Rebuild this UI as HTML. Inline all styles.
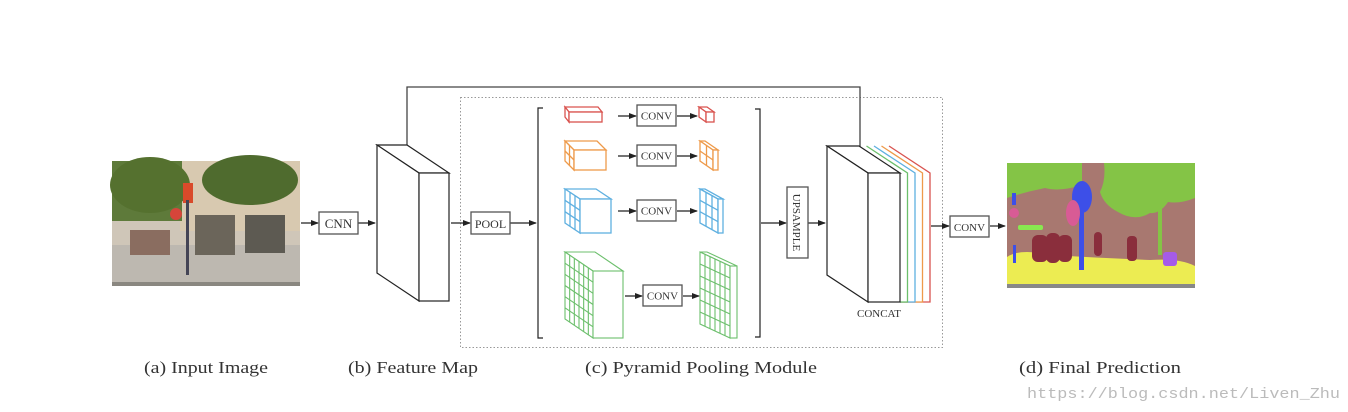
<!DOCTYPE html>
<html><head><meta charset="utf-8"><style>
html,body{margin:0;padding:0;background:#fff;width:1348px;height:412px;overflow:hidden}
svg{display:block}
text{font-family:"Liberation Serif",serif}
</style></head><body>
<svg id="s" width="1348" height="412" viewBox="0 0 1348 412" xmlns="http://www.w3.org/2000/svg">
<defs>
<marker id="a" markerWidth="8" markerHeight="6" refX="7" refY="3" orient="auto" markerUnits="userSpaceOnUse"><path d="M0,0 L8,3 L0,6 Z" fill="#222"/></marker>
</defs>
<!-- input image -->
<g>
<rect x="112" y="161" width="188" height="125" fill="#cfc6b8"/>
<rect x="180" y="161" width="120" height="70" fill="#d8c9b0"/>
<rect x="112" y="161" width="70" height="60" fill="#5e7a3a"/>
<ellipse cx="150" cy="185" rx="40" ry="28" fill="#55712f"/>
<ellipse cx="250" cy="180" rx="48" ry="25" fill="#4f6b2e"/>
<rect x="112" y="245" width="188" height="41" fill="#bdb8b0"/>
<rect x="195" y="215" width="40" height="40" fill="#6b655a"/>
<rect x="245" y="215" width="40" height="38" fill="#5d5a52"/>
<rect x="130" y="230" width="40" height="25" fill="#8a6d60"/>
<rect x="183" y="183" width="10" height="20" fill="#d94a2a"/>
<circle cx="176" cy="214" r="6" fill="#d6453a"/>
<rect x="186" y="200" width="3" height="75" fill="#445"/>
<rect x="112" y="282" width="188" height="4" fill="#8a8780"/>
</g>
<!-- prediction -->
<g>
<rect x="1007" y="163" width="188" height="125" fill="#a87870"/>
<path d="M1007,163 H1082 V185 Q1060,192 1045,188 Q1025,192 1007,198 Z" fill="#84c446"/>
<path d="M1104,163 H1195 V198 Q1180,204 1168,202 Q1160,214 1150,213 Q1135,222 1118,212 Q1104,205 1100,192 Q1106,180 1104,163 Z" fill="#84c446"/>
<rect x="1158" y="205" width="4" height="50" fill="#84c446"/>
<path d="M1007,257 Q1020,248 1050,255 Q1100,258 1150,260 Q1180,258 1195,266 V288 H1007 Z" fill="#ecec52"/>
<rect x="1032" y="235" width="16" height="27" rx="6" fill="#8a2e3c"/>
<rect x="1046" y="233" width="14" height="30" rx="6" fill="#8a2e3c"/>
<rect x="1058" y="235" width="14" height="27" rx="6" fill="#8a2e3c"/>
<rect x="1094" y="232" width="8" height="24" rx="4" fill="#8a2e3c"/>
<rect x="1127" y="236" width="10" height="25" rx="4" fill="#8a2e3c"/>
<ellipse cx="1082" cy="197" rx="10" ry="16" fill="#3d4fe8"/>
<rect x="1079" y="205" width="5" height="65" fill="#3d4fe8"/>
<ellipse cx="1073" cy="213" rx="7" ry="13" fill="#d85b95"/>
<ellipse cx="1014" cy="213" rx="5" ry="5" fill="#d85b95"/>
<rect x="1012" y="193" width="4" height="12" fill="#3d4fe8"/>
<rect x="1013" y="245" width="3" height="18" fill="#3d4fe8"/>
<rect x="1018" y="225" width="25" height="5" rx="2" fill="#88e850"/>
<rect x="1163" y="252" width="14" height="14" rx="3" fill="#a55be8"/>
<rect x="1007" y="284" width="188" height="4" fill="#888"/>
</g>
<!-- dotted box -->
<rect x="460.5" y="97.5" width="482" height="250" fill="none" stroke="#999" stroke-dasharray="1.5,2"/>
<!-- skip connection -->
<polyline points="407,145 407,87 860,87 860,155" fill="none" stroke="#444" stroke-width="1.3" marker-end="url(#a)"/>
<g stroke="#222" stroke-width="1.2" fill="none">
<line x1="301" y1="223" x2="318" y2="223" marker-end="url(#a)"/>
<line x1="358" y1="223" x2="375" y2="223" marker-end="url(#a)"/>
<line x1="451" y1="223" x2="470" y2="223" marker-end="url(#a)"/>
<line x1="510" y1="223" x2="536" y2="223" marker-end="url(#a)"/>
<line x1="761" y1="223" x2="786" y2="223" marker-end="url(#a)"/>
<line x1="808" y1="223" x2="825" y2="223" marker-end="url(#a)"/>
<line x1="931" y1="226" x2="949" y2="226" marker-end="url(#a)"/>
<line x1="990" y1="226" x2="1005" y2="226" marker-end="url(#a)"/>
<path d="M543,108 H538 V338 H543"/>
<path d="M755,109 H760 V337 H755"/>
</g>
<g fill="#fff" stroke="#555" stroke-width="1.3">
<rect x="319" y="212" width="39" height="22"/>
<rect x="471" y="212" width="39" height="22"/>
<rect x="787" y="187" width="21" height="71"/>
<rect x="950" y="216" width="39" height="21"/>
</g>
<g font-size="13" fill="#333" text-anchor="middle">
<text x="338.5" y="228">CNN</text>
<text x="490.5" y="228" font-size="12">POOL</text>
<text x="969.5" y="231" font-size="11">CONV</text>
<text transform="translate(793,222.5) rotate(90)" font-size="11">UPSAMPLE</text>
<text x="879" y="317" font-size="11">CONCAT</text>
</g>
<g id="cub"></g>
<g font-size="17" fill="#333">
<text x="144" y="373" textLength="124" lengthAdjust="spacingAndGlyphs">(a) Input Image</text>
<text x="348" y="373" textLength="130" lengthAdjust="spacingAndGlyphs">(b) Feature Map</text>
<text x="585" y="373" textLength="232" lengthAdjust="spacingAndGlyphs">(c) Pyramid Pooling Module</text>
<text x="1019" y="373" textLength="162" lengthAdjust="spacingAndGlyphs">(d) Final Prediction</text>
</g>
<text x="1027" y="398" font-size="15" fill="#bbb" style="font-family:'Liberation Mono',monospace" textLength="313" lengthAdjust="spacingAndGlyphs">https://blog.csdn.net/Liven_Zhu</text>
</svg>
<script>
var g=document.getElementById('cub'),h='';
function cub(x0,x1,sw,y0,dy,y1,c,rows,cols,w){
 var p=function(a){return a.map(function(q){return q.join(',')}).join(' ')};
 var s='<g fill="#fff" stroke="'+c+'" stroke-width="'+(w||1.3)+'">';
 s+='<polygon points="'+p([[x0,y0],[x1-sw,y0],[x1,y0+dy],[x0+sw,y0+dy]])+'"/>';
 s+='<polygon points="'+p([[x0,y0],[x0+sw,y0+dy],[x0+sw,y1],[x0,y1-dy]])+'"/>';
 s+='<rect x="'+(x0+sw)+'" y="'+(y0+dy)+'" width="'+(x1-x0-sw)+'" height="'+(y1-y0-dy)+'"/>';
 for(var i=1;i<rows;i++){var t=i/rows;var ya=y0+(y1-dy-y0)*t,yb=y0+dy+(y1-y0-dy)*t;s+='<line x1="'+x0+'" y1="'+ya+'" x2="'+(x0+sw)+'" y2="'+yb+'"/>';}
 for(var j=1;j<cols;j++){var u=j/cols;var xx=x0+sw*u,yy=y0+dy*u;s+='<line x1="'+xx+'" y1="'+yy+'" x2="'+xx+'" y2="'+(y1-dy+dy*u)+'"/>';}
 return s+'</g>';}
h+=cub(377,449,42,145,28,301,'#222',1,1,1.2);
h+=cub(565,602,4,107,5,122,'#d9534f',1,1);
h+=cub(699,714,7,107,5,122,'#d9534f',1,1);
h+=cub(565,606,9,141,9,170,'#ee9a4a',2,2);
h+=cub(700,718,13,141,9,170,'#ee9a4a',2,2);
h+=cub(565,611,15,189,10,233,'#5fb0e0',3,3);
h+=cub(700,723,18,189,10,233,'#5fb0e0',3,3);
h+=cub(565,623,28,252,19,338,'#6cbf6c',6,6,1.1);
h+=cub(700,737,30,252,14,338,'#6cbf6c',6,6,1.1);
var cols=['#6cbf6c','#5fb0e0','#ee9a4a','#d9534f'];
for(var i=3;i>=0;i--){var o=7.5*(i+1);h+='<polyline points="'+(859+o)+',146 '+(900+o)+',173 '+(900+o)+',302 900,302" fill="#fff" stroke="'+cols[i]+'" stroke-width="1.3"/>';}
h+=cub(827,900,41,146,27,302,'#222',1,1,1.2);
function box(x,y,w,hh){return '<rect x="'+x+'" y="'+y+'" width="'+w+'" height="'+hh+'" fill="#fff" stroke="#555" stroke-width="1.3"/><text x="'+(x+w/2)+'" y="'+(y+hh/2+4)+'" font-size="11" fill="#333" text-anchor="middle">CONV</text>';}
function ar(x1,x2,y){return '<line x1="'+x1+'" y1="'+y+'" x2="'+x2+'" y2="'+y+'" stroke="#222" stroke-width="1.2" marker-end="url(#a)"/>';}
[[116,105,637],[156,145,637],[211,200,637]].forEach(function(r){h+=ar(618,636,r[0])+box(637,r[1],39,21)+ar(677,697,r[0]);});
h+=ar(625,642,296)+box(643,285,39,21)+ar(683,699,296);
g.innerHTML=h;
</script>
</body></html>
